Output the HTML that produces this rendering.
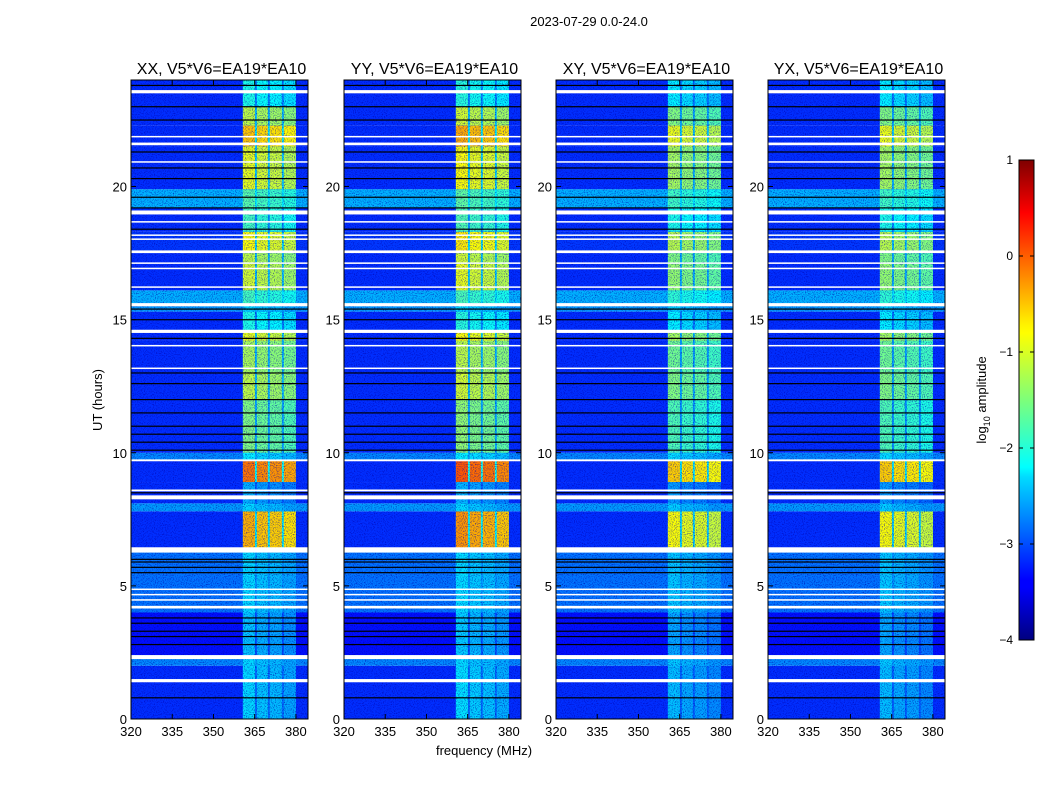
<!DOCTYPE html>
<html><head><meta charset="utf-8"><style>
body{margin:0;background:#fff;}
svg text{font-family:"Liberation Sans",sans-serif;fill:#000;}
</style></head><body>
<svg id="fig" width="1050" height="800" xmlns="http://www.w3.org/2000/svg">
<defs>
<filter id="speck" x="0" y="0" width="100%" height="100%">
<feTurbulence type="fractalNoise" baseFrequency="0.9" numOctaves="1" seed="3" result="n"/>
<feColorMatrix in="n" type="matrix" values="0 0 0 0 0  0 0 0 0 0  0 0 0 0 0.4  0 0 0 -2.2 1.15"/>
</filter>
<linearGradient id="jet" x1="0" y1="1" x2="0" y2="0">
<stop offset="0" stop-color="#00007f"/><stop offset="0.11" stop-color="#0000ff"/>
<stop offset="0.125" stop-color="#0000ff"/><stop offset="0.34" stop-color="#00dcff"/>
<stop offset="0.36" stop-color="#00ffff"/><stop offset="0.5" stop-color="#7dff7a"/>
<stop offset="0.64" stop-color="#ffff00"/><stop offset="0.66" stop-color="#fff000"/>
<stop offset="0.89" stop-color="#ff0000"/><stop offset="1" stop-color="#7f0000"/>
</linearGradient>
</defs>
<text x="589" y="26" font-size="13" text-anchor="middle">2023-07-29 0.0-24.0</text>
<text transform="translate(102,400) rotate(-90)" font-size="13" text-anchor="middle">UT (hours)</text>
<text x="484" y="755" font-size="13" text-anchor="middle">frequency (MHz)</text>
<g id="panels"></g>
<g id="cbar"></g>
</svg>
<script>
const panelTitles=["XX, V5*V6=EA19*EA10","YY, V5*V6=EA19*EA10","XY, V5*V6=EA19*EA10","YX, V5*V6=EA19*EA10"];
const panelLefts=[131,344,556,768];
const panelBandGain=[1.0,1.05,0.85,0.85];
const segStart=[0,1.5,2.0,2.4,4.0,6.4,7.8,8.1,8.9,9.75,10,12,13,14.2,14.6,15.3,15.6,16.1,17.1,17.5,18.3,19.2,19.9,21.5,22.3,23.0];
const segEnd=[1.5,2.0,2.4,4.0,6.3,7.8,8.1,8.9,9.75,10,12,13,14.2,14.6,15.3,15.6,16.1,17.1,17.5,18.3,19.2,19.9,21.5,22.3,23.0,24];
const segBg=[-3.15,-3.15,-2.7,-3.3,-2.8,-3.15,-2.6,-3.15,-3.15,-2.7,-3.15,-3.15,-3.15,-3.15,-3.15,-2.6,-2.5,-3.15,-3.15,-3.1,-3.15,-2.5,-3.15,-3.15,-3.15,-3.15];
const segBand=[-2.3,-2.3,-2.3,-2.4,-2.3,-0.5,-2.3,-2.5,-0.2,-2.2,-1.5,-1.2,-1.3,-1.0,-2.0,-2.3,-1.8,-1.1,-1.2,-0.9,-1.8,-1.7,-1.0,-0.6,-1.2,-2.0];
const subStart=[360.7,365.8,370.5,375.6];
const subEnd=[365.1,369.8,374.9,380];
const subOffset=[0,-0.1,-0.15,-0.25];
const flagStart=[1.38,2.25,4.15,4.45,4.65,4.85,6.25,8.25,8.55,9.68,13.15,14.0,14.5,15.5,16.2,16.9,17.1,17.5,18.0,18.15,18.65,18.95,20.9,21.55,21.85,23.5];
const flagEnd=[1.5,2.4,4.25,4.5,4.7,4.9,6.45,8.4,8.62,9.75,13.2,14.05,14.62,15.62,16.25,16.95,17.15,17.6,18.05,18.2,18.7,19.1,20.95,21.65,21.9,23.62];
const blackLines=[0.8,2.8,3.1,3.3,3.6,3.8,5.5,5.7,5.9,6.0,8.5,10.1,10.4,10.7,11.0,11.5,12.0,12.6,13.0,14.3,15.0,15.4,18.4,19.2,19.6,20.3,20.7,21.3,22.5,23.0,23.8];
const xTicks=[320,335,350,365,380];
const yTicks=[0,5,10,15,20];
const cbTicks=[1,0,-1,-2,-3,-4];

const NS="http://www.w3.org/2000/svg";
const FMIN=320,FMAX=384.4,TOP=80,BOT=719,PW=177;
function yPix(h){return BOT-(h/24)*(BOT-TOP);}
function xPix(f,L){return L+(f-FMIN)/(FMAX-FMIN)*PW;}
function jet(v){let t=(v+4)/5;t=Math.max(0,Math.min(1,t));
 const c=x=>Math.round(255*Math.max(0,Math.min(1,x)));
 const r=c(Math.min(4*t-1.5,-4*t+4.5)),g=c(Math.min(4*t-0.5,-4*t+3.5)),b=c(Math.min(4*t+0.5,-4*t+2.5));
 return `rgb(${r},${g},${b})`;}
function mk(tag,attrs,parent){const e=document.createElementNS(NS,tag);for(const k in attrs)e.setAttribute(k,attrs[k]);parent.appendChild(e);return e;}
const root=document.getElementById('panels');
panelLefts.forEach((L,p)=>{
 const g=mk('g',{},root);
 
 
 for(let i=0;i<segStart.length;i++){
  const y1=yPix(segEnd[i]),y0=yPix(segStart[i]);
  const r=mk('rect',{x:L,y:y1,width:PW,height:y0-y1,fill:jet(segBg[i])},g);
  
  
  const band=segBg[i]+(segBand[i]-segBg[i])*panelBandGain[p];
  const gap=mk('rect',{x:xPix(subStart[0],L),y:y1,width:xPix(subEnd[3],L)-xPix(subStart[0],L),height:y0-y1,fill:jet(segBg[i]+(band-segBg[i])*0.35)},g);
  
  
  for(let s=0;s<subStart.length;s++){
   const c=mk('rect',{x:xPix(subStart[s],L),y:y1,width:xPix(subEnd[s],L)-xPix(subStart[s],L),height:y0-y1,fill:jet(band+subOffset[s])},g);
   
   
  }
 }
 const sp=mk('rect',{x:L,y:TOP,width:PW,height:BOT-TOP,filter:'url(#speck)'},g);
 
 
 blackLines.forEach(h=>{const l=mk('rect',{x:L,y:yPix(h)-0.5,width:PW,height:1.2,fill:'#000'},g);
  
  });
 for(let i=0;i<flagStart.length;i++){const y1=yPix(flagEnd[i]);const h=Math.max(1.5,yPix(flagStart[i])-y1);
  const f=mk('rect',{x:L,y:y1,width:PW,height:h,fill:'#fff'},g);
  
  }
 const fr=mk('rect',{x:L,y:TOP,width:PW,height:BOT-TOP,fill:'none',stroke:'#000','stroke-width':1},g);
 
 
 const t=mk('text',{x:L+PW/2+2,y:74,'font-size':16,'text-anchor':'middle'},g);t.textContent=panelTitles[p];
 
 
 xTicks.forEach(v=>{const x=xPix(v,L);
  mk('line',{x1:x,x2:x,y1:BOT,y2:BOT-5,stroke:'#000'},g);mk('line',{x1:x,x2:x,y1:TOP,y2:TOP+5,stroke:'#000'},g);
  const tl=mk('text',{x:x,y:BOT+17,'font-size':13,'text-anchor':'middle'},g);tl.textContent=v;
  
  });
 yTicks.forEach(v=>{const y=yPix(v);
  mk('line',{x1:L,x2:L+5,y1:y,y2:y,stroke:'#000'},g);mk('line',{x1:L+PW,x2:L+PW-5,y1:y,y2:y,stroke:'#000'},g);
  const tl=mk('text',{x:L-4,y:y+5,'font-size':13,'text-anchor':'end'},g);tl.textContent=v;
  
  });
});
const cb=document.getElementById('cbar');
const CBT=160,CBB=640,CBX=1019,CBW=15;
mk('rect',{x:CBX,y:CBT,width:CBW,height:CBB-CBT,fill:'url(#jet)',stroke:'#000'},cb);
cbTicks.forEach(v=>{const y=CBB-(v+4)/5*(CBB-CBT);
 mk('line',{x1:CBX,x2:CBX+4,y1:y,y2:y,stroke:'#000'},cb);
 mk('line',{x1:CBX+CBW,x2:CBX+CBW-4,y1:y,y2:y,stroke:'#000'},cb);
 const t=mk('text',{x:1013,y:y+4,'font-size':12,'text-anchor':'end'},cb);t.textContent=(v<0?'\u2212'+(-v):v);
 
 });
const lab=mk('text',{transform:'translate(986,400) rotate(-90)','font-size':13,'text-anchor':'middle'},cb);
lab.innerHTML='log<tspan font-size="9" dy="4">10</tspan><tspan dy="-4"> amplitude</tspan>';


</script>
</body></html>
